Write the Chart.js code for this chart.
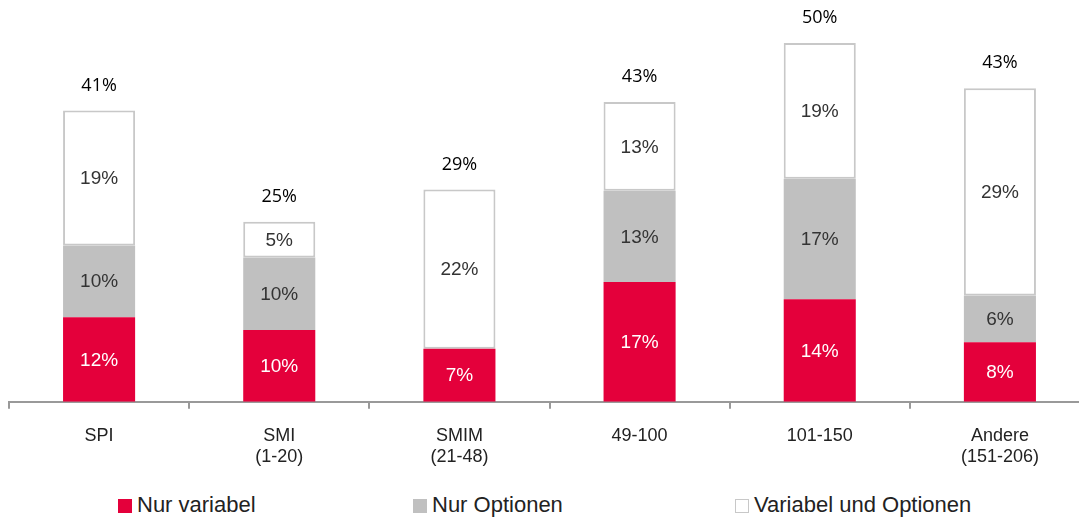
<!DOCTYPE html>
<html lang="de">
<head>
<meta charset="UTF-8">
<title>Vergütung</title>
<script src="https://cdn.jsdelivr.net/npm/chart.js"></script>
<style>
    html, body { margin: 0; padding: 0; background: #fff; overflow: hidden; }
    .wrap { position: relative; width: 1079px; height: 520px; overflow: hidden; }
    .chart-box { position: absolute; left: 0; top: 0; width: 1090px; height: 484px; }
    .legend { position: absolute; top: 492px; left: 0; width: 1079px; height: 28px;
        font-family: "Liberation Sans", Arial, sans-serif; font-size: 22px; color: #222; }
    .legend span { position: absolute; top: 0; white-space: nowrap; line-height: 25px; }
    .legend i { display: inline-block; width: 14px; height: 14px; margin-right: 5px; vertical-align: -1px; box-sizing: border-box; }
</style>
</head>
<body>
<div class="wrap">
    <div class="chart-box"><canvas id="grafico"></canvas></div>
    <div class="legend" id="leyenda"></div>
</div>

<script>
    // Daten (Balkenhöhen aus der Grafik geschätzt, Beschriftungen wie abgebildet)
    const kategorien = [['SPI'], ['SMI', '(1-20)'], ['SMIM', '(21-48)'], ['49-100'], ['101-150'], ['Andere', '(151-206)']];
    const nurVariabel = [11.8, 10.0, 7.4, 16.7, 14.3, 8.3];
    const nurOptionen = [10.0, 10.1, 0, 12.7, 16.8, 6.5];
    const variabelUndOptionen = [18.8, 5.0, 22.2, 12.4, 18.9, 28.9];
    const labelVariabel = [12, 10, 7, 17, 14, 8];
    const labelOptionen = [10, 10, 0, 13, 17, 6];
    const labelBeide = [19, 5, 22, 13, 19, 29];
    const totale = [41, 25, 29, 43, 50, 43];

    const serien = ['Nur variabel', 'Nur Optionen', 'Variabel und Optionen'];
    const rot = '#e4003b', grau = '#c0c0c0', rahmen = '#c8c8c8';
    const beschriftung = [labelVariabel, labelOptionen, labelBeide];

    // Prozentwerte in den Segmenten und Totale oberhalb
    const labelPlugin = {
        id: 'labels',
        afterDatasetsDraw(chart) {
            const ctx = chart.ctx;
            ctx.save();
            ctx.textAlign = 'center';
            ctx.textBaseline = 'middle';
            ctx.font = '19px "Liberation Sans", Arial, sans-serif';
            chart.data.datasets.forEach((ds, i) => {
                const meta = chart.getDatasetMeta(i);
                meta.data.forEach((bar, j) => {
                    const v = beschriftung[i][j];
                    if (!v) return;
                    const mitte = (bar.y + bar.base) / 2;
                    ctx.fillStyle = i === 0 ? '#fff' : '#333';
                    ctx.fillText(v + '%', bar.x, mitte + 1);
                });
            });
            const top = chart.getDatasetMeta(2);
            ctx.fillStyle = '#000';
            ctx.font = '500 18px "Open Sans", "Liberation Sans", sans-serif';
            top.data.forEach((bar, j) => {
                ctx.fillText(totale[j] + '%', bar.x, bar.y - 25);
            });
            ctx.restore();
        }
    };

    new Chart(document.getElementById('grafico'), {
        type: 'bar',
        data: {
            labels: kategorien,
            datasets: [
                { label: serien[0], data: nurVariabel, backgroundColor: rot, borderWidth: 0 },
                { label: serien[1], data: nurOptionen, backgroundColor: grau, borderWidth: 0 },
                { label: serien[2], data: variabelUndOptionen, backgroundColor: '#fff',
                  borderColor: rahmen, borderWidth: 2, borderSkipped: false }
            ]
        },
        options: {
            responsive: true,
            maintainAspectRatio: false,
            animation: false,
            datasets: { bar: { barPercentage: 0.4, categoryPercentage: 1 } },
            layout: { padding: { left: 9, right: 0, top: 0, bottom: 0 } },
            plugins: { legend: { display: false }, tooltip: { enabled: false } },
            scales: {
                x: {
                    stacked: true,
                    offset: true,
                    border: { display: true, color: '#999', width: 2 },
                    grid: { display: true, offset: true, drawOnChartArea: false, color: '#999', lineWidth: 2, tickLength: 7 },
                    ticks: { color: '#222', font: { family: '"Liberation Sans", Arial, sans-serif', size: 18 }, padding: 16 }
                },
                y: {
                    stacked: true,
                    display: false,
                    min: 0,
                    max: 56
                }
            }
        },
        plugins: [labelPlugin]
    });

    // Legende
    const legende = document.getElementById('leyenda');
    const posX = [118, 413, 735];
    const stil = [`background:${rot}`, `background:${grau}`, `background:#fff;border:1.5px solid ${rahmen}`];
    serien.forEach((s, i) => {
        const el = document.createElement('span');
        el.style.left = posX[i] + 'px';
        el.innerHTML = `<i style="${stil[i]}"></i>${s}`;
        legende.appendChild(el);
    });
</script>
</body>
</html>
